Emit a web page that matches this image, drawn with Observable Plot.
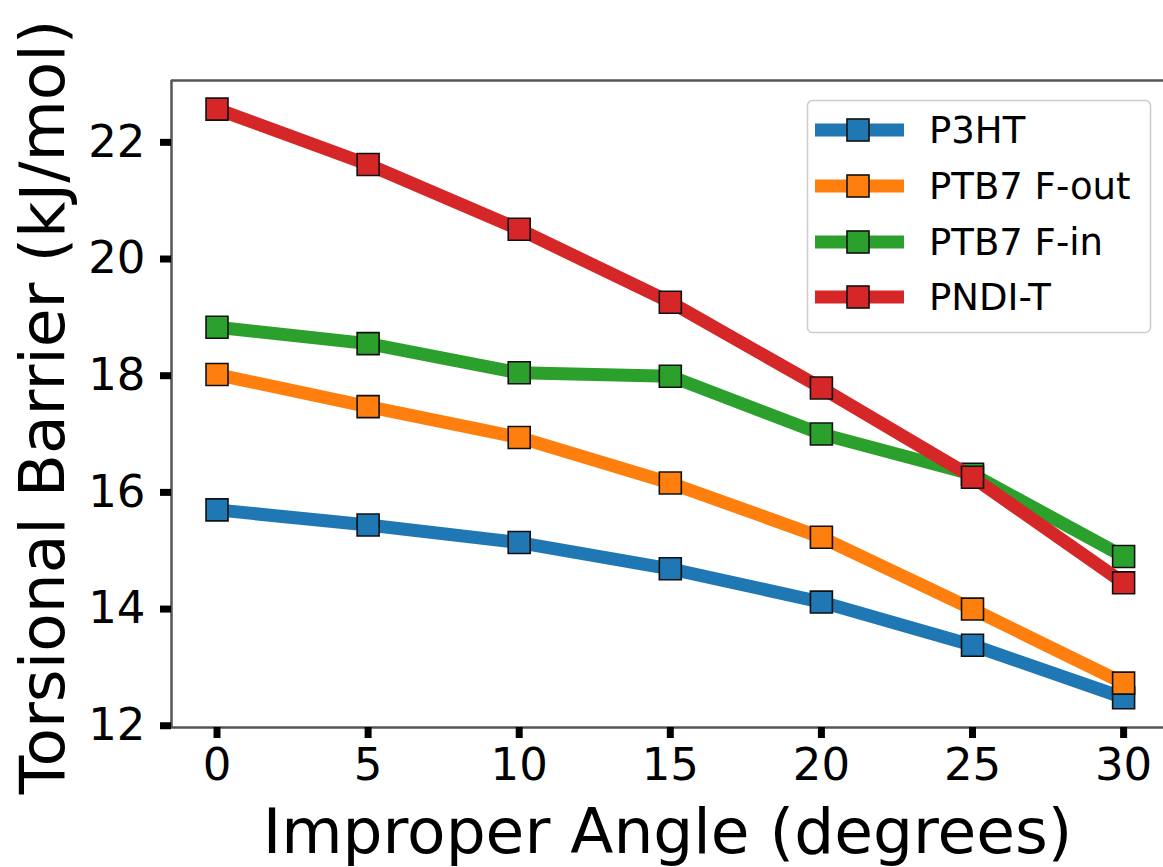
<!DOCTYPE html>
<html>
<head>
<meta charset="utf-8">
<script src="https://cdn.jsdelivr.net/npm/d3@7"></script>
<script src="https://cdn.jsdelivr.net/npm/@observablehq/plot@0.6"></script>
<style>
  html, body { margin: 0; padding: 0; background: #fff; overflow: hidden; }
  #wrap { position: relative; width: 1163px; height: 867px; font-family: "DejaVu Sans", sans-serif; }
  #legend { position: absolute; left: 0; top: 0; pointer-events: none; }
</style>
</head>
<body>
<div id="wrap"></div>
<script>
// ---- data ----
const angles = [0, 5, 10, 15, 20, 25, 30];
const seriesNames = ["P3HT", "PTB7 F-out", "PTB7 F-in", "PNDI-T"];
const p3ht     = [15.70, 15.44, 15.14, 14.69, 14.12, 13.38, 12.48];
const ptb7Fout = [18.02, 17.47, 16.94, 16.16, 15.23, 14.00, 12.73];
const ptb7Fin  = [18.83, 18.55, 18.05, 17.99, 17.00, 16.31, 14.90];
const pndiT    = [22.57, 21.62, 20.51, 19.26, 17.79, 16.26, 14.45];
const seriesColors = ["#1f77b4", "#ff7f0e", "#2ca02c", "#d62728"];
const xTicks = [0, 5, 10, 15, 20, 25, 30];
const yTicks = [12, 14, 16, 18, 20, 22];
const xLabel = "Improper Angle (degrees)";
const yLabel = "Torsional Barrier (kJ/mol)";

const allSeries = [p3ht, ptb7Fout, ptb7Fin, pndiT];
const tables = allSeries.map((vals, i) =>
  angles.map((a, j) => ({ angle: a, value: vals[j], series: seriesNames[i] })));

const xDomain = [-1.506, 31.32];
const yDomain = [11.97, 23.06];

const marks = [];
tables.forEach((t, i) => {
  marks.push(Plot.line(t, { x: "angle", y: "value", stroke: seriesColors[i], strokeWidth: 13, strokeLinejoin: "round", strokeLinecap: "butt" }));
  marks.push(Plot.dot(t, { x: "angle", y: "value", symbol: "square", r: 12.4, fill: seriesColors[i], stroke: "#111", strokeWidth: 1.6 }));
});

marks.push(Plot.ruleY([yDomain[0]], { stroke: "#555", strokeWidth: 2.5 }));
marks.push(Plot.ruleY([yDomain[1]], { stroke: "#555", strokeWidth: 2.5 }));
marks.push(Plot.ruleX([xDomain[0]], { stroke: "#555", strokeWidth: 2.5 }));

marks.push(Plot.axisX({ ticks: xTicks, tickSize: 11, tickPadding: 10, fontSize: 45, strokeWidth: 7, stroke: "black", label: null, tickFormat: d => String(d) }));
marks.push(Plot.axisY({ ticks: yTicks, tickSize: 11, tickPadding: 15, fontSize: 45, strokeWidth: 7, stroke: "black", label: null, tickFormat: d => String(d) }));

marks.push(Plot.text([xLabel], { text: d => d, frameAnchor: "bottom", lineAnchor: "bottom", textAnchor: "middle", dy: 125, fontSize: 63, fill: "black" }));
marks.push(Plot.text([yLabel], { text: d => d, frameAnchor: "left", lineAnchor: "bottom", textAnchor: "middle", rotate: -90, dx: -108, dy: 3, fontSize: 63, fill: "black" }));

const chart = Plot.plot({
  width: 1163,
  height: 867,
  marginLeft: 171,
  marginRight: 0,
  marginTop: 80,
  marginBottom: 140,
  style: { fontFamily: "DejaVu Sans", background: "white", color: "black", overflow: "visible" },
  x: { domain: xDomain },
  y: { domain: yDomain },
  marks
});
document.getElementById("wrap").appendChild(chart);

// ---- legend (overlay) ----
const lg = d3.select("#wrap").append("svg")
  .attr("id", "legend").attr("width", 1163).attr("height", 867);
lg.append("rect")
  .attr("x", 807.5).attr("y", 100.5).attr("width", 343).attr("height", 232)
  .attr("rx", 5).attr("fill", "white").attr("fill-opacity", 0.85)
  .attr("stroke", "#cccccc").attr("stroke-width", 1.5);
const rowY = [130, 186, 242, 297];
seriesNames.forEach((name, i) => {
  const y = rowY[i];
  lg.append("line").attr("x1", 815).attr("x2", 904).attr("y1", y).attr("y2", y)
    .attr("stroke", seriesColors[i]).attr("stroke-width", 13);
  lg.append("rect").attr("x", 858 - 11).attr("y", y - 11).attr("width", 22).attr("height", 22)
    .attr("fill", seriesColors[i]).attr("stroke", "#111").attr("stroke-width", 1.6);
  lg.append("text").attr("x", 929).attr("y", y + 13)
    .attr("font-family", "DejaVu Sans").attr("font-size", 37).attr("fill", "black")
    .text(name);
});
</script>
</body>
</html>
